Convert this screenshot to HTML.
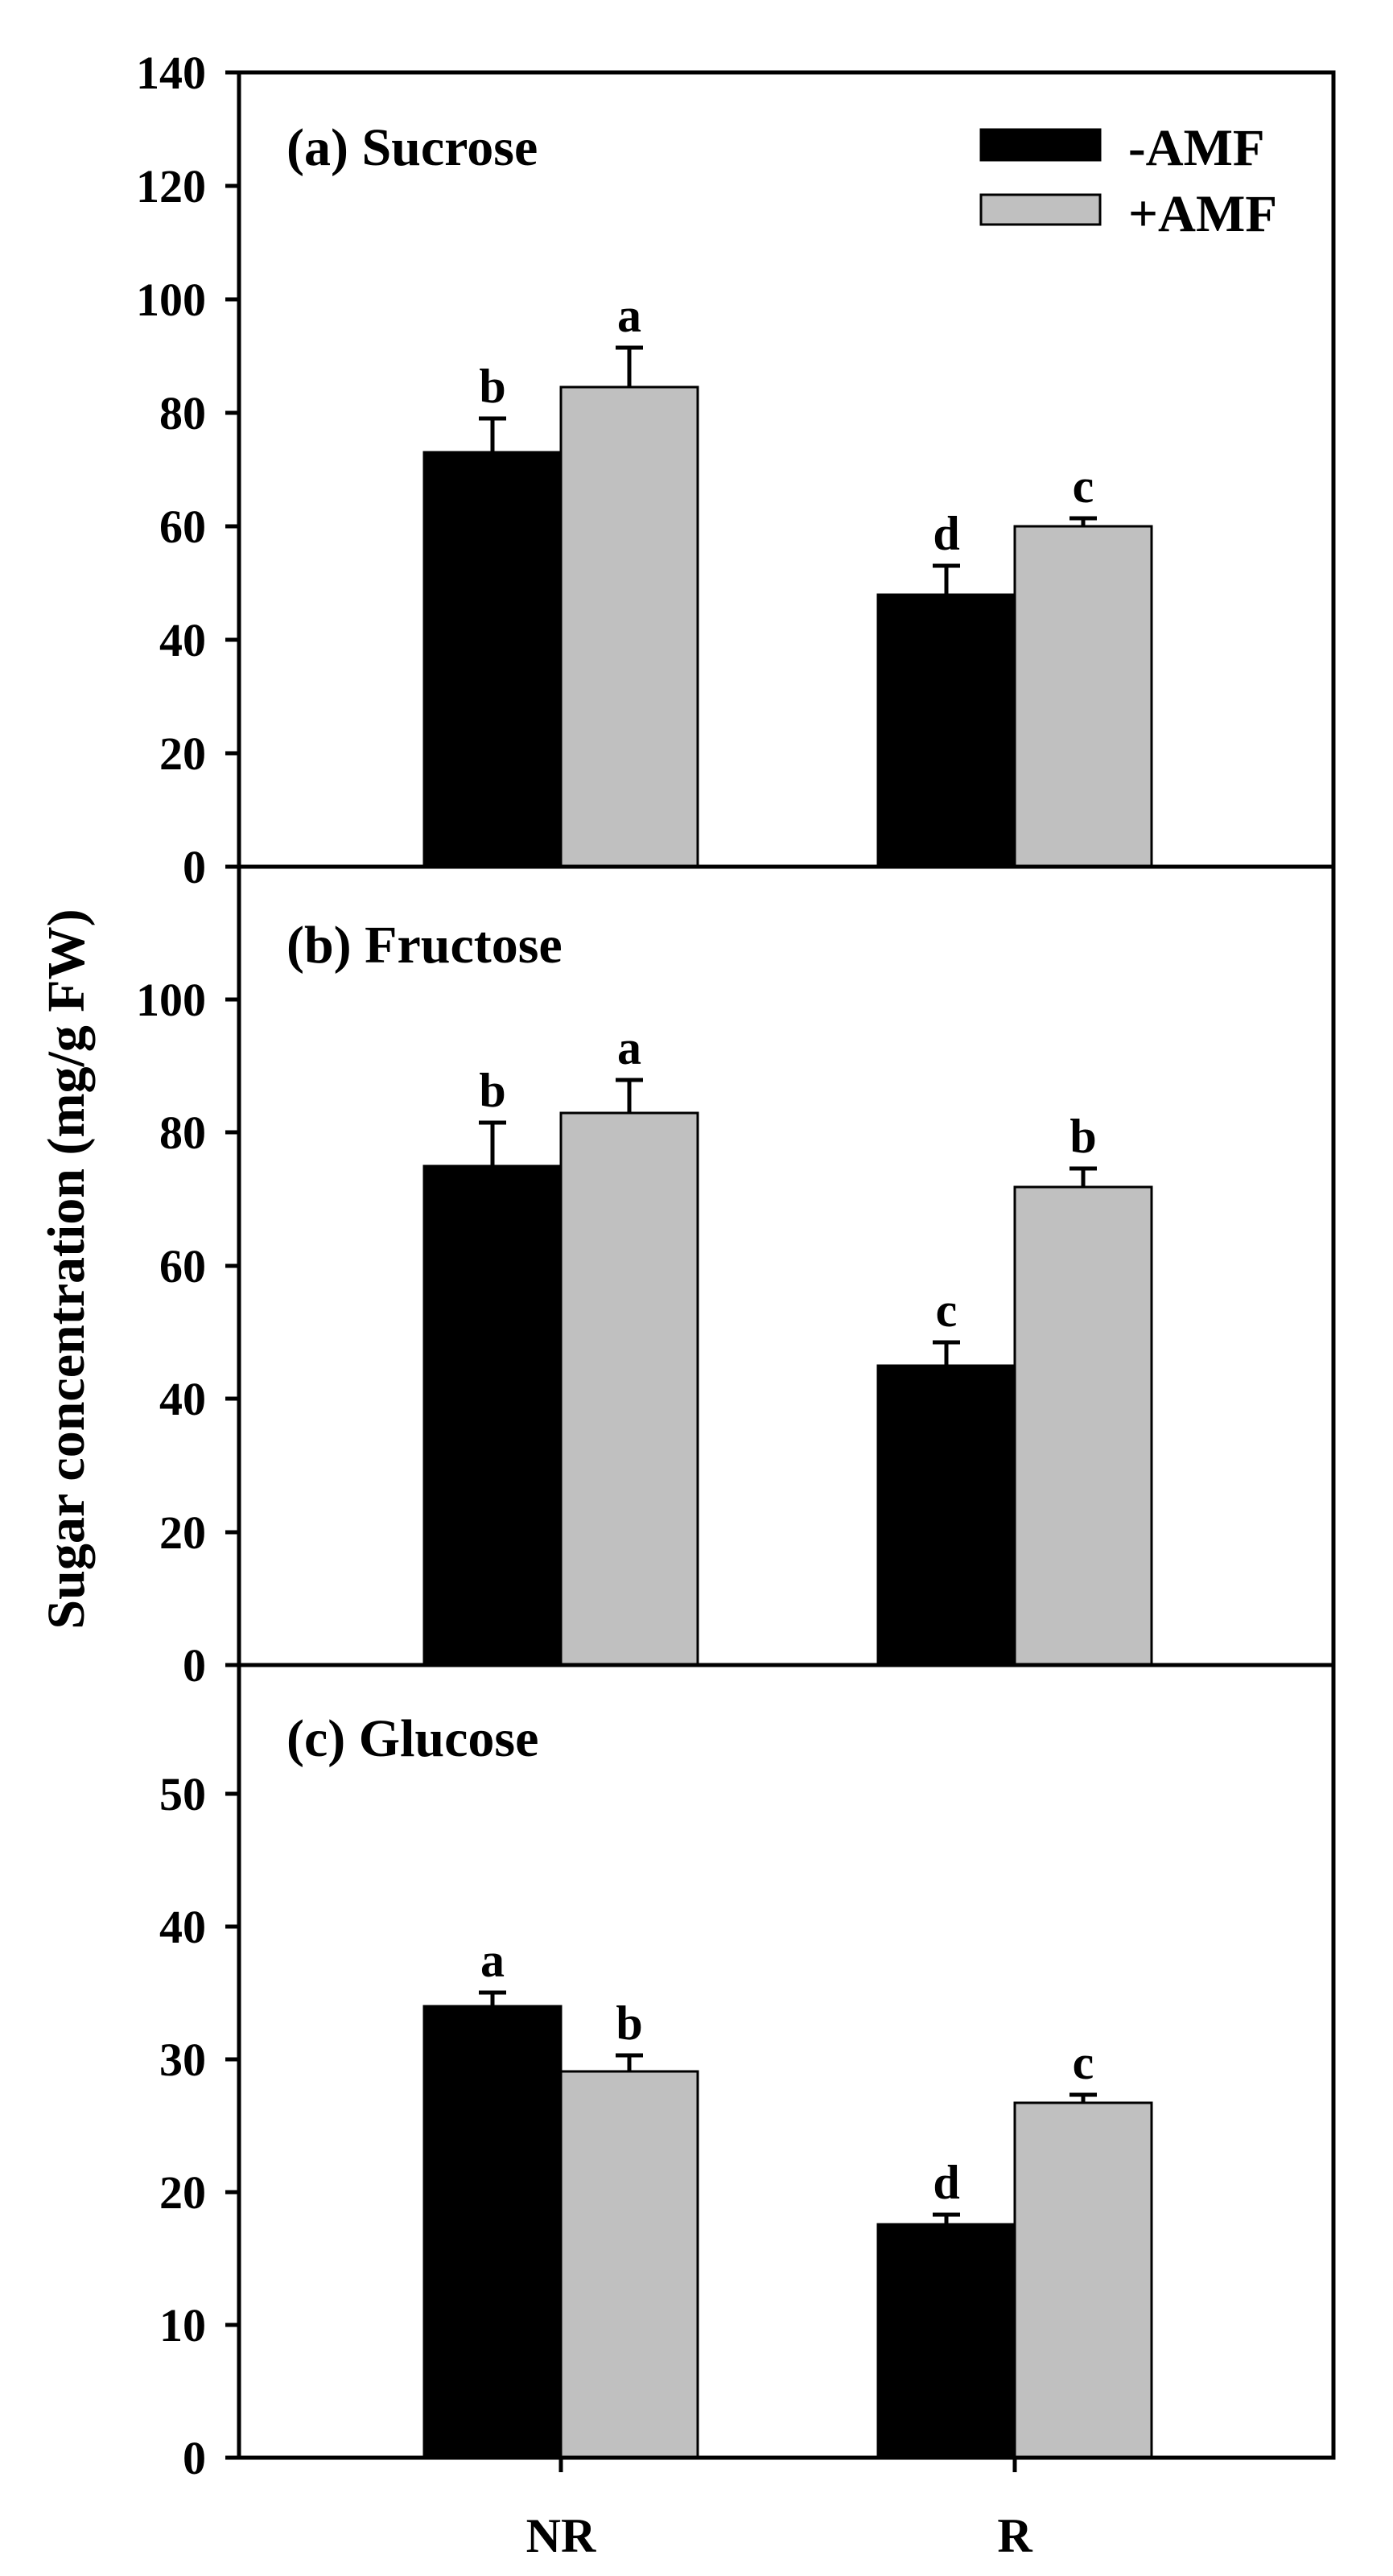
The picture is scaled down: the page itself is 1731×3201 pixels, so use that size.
<!DOCTYPE html>
<html><head><meta charset="utf-8"><style>
html,body{margin:0;padding:0;background:#fff}
svg{display:block}
text{font-family:"Liberation Serif",serif;font-weight:bold;fill:#000}
</style></head><body>
<svg width="1731" height="3201" viewBox="0 0 1731 3201" xmlns="http://www.w3.org/2000/svg">
<g font-size="58" text-anchor="end">
<text x="256" y="1097">0</text>
<text x="256" y="956">20</text>
<text x="256" y="815">40</text>
<text x="256" y="674">60</text>
<text x="256" y="533">80</text>
<text x="256" y="392">100</text>
<text x="256" y="251">120</text>
<text x="256" y="110">140</text>
<text x="256" y="2089">0</text>
<text x="256" y="1924">20</text>
<text x="256" y="1758">40</text>
<text x="256" y="1593">60</text>
<text x="256" y="1427">80</text>
<text x="256" y="1262">100</text>
<text x="256" y="3074">0</text>
<text x="256" y="2909">10</text>
<text x="256" y="2744">20</text>
<text x="256" y="2579">30</text>
<text x="256" y="2414">40</text>
<text x="256" y="2249">50</text>
</g>
<g stroke="#000" stroke-width="5">
<line x1="280" y1="1077" x2="297" y2="1077"/><line x1="280" y1="936" x2="297" y2="936"/><line x1="280" y1="795" x2="297" y2="795"/><line x1="280" y1="654" x2="297" y2="654"/><line x1="280" y1="513" x2="297" y2="513"/><line x1="280" y1="372" x2="297" y2="372"/><line x1="280" y1="231" x2="297" y2="231"/><line x1="280" y1="90" x2="297" y2="90"/>
<line x1="280" y1="1904" x2="297" y2="1904"/><line x1="280" y1="1738" x2="297" y2="1738"/><line x1="280" y1="1573" x2="297" y2="1573"/><line x1="280" y1="1407" x2="297" y2="1407"/><line x1="280" y1="1242" x2="297" y2="1242"/><line x1="280" y1="2069" x2="297" y2="2069"/>
<line x1="280" y1="3054" x2="297" y2="3054"/><line x1="280" y1="2889" x2="297" y2="2889"/><line x1="280" y1="2724" x2="297" y2="2724"/><line x1="280" y1="2559" x2="297" y2="2559"/><line x1="280" y1="2394" x2="297" y2="2394"/><line x1="280" y1="2229" x2="297" y2="2229"/>
<line x1="697" y1="3054" x2="697" y2="3072"/><line x1="1261" y1="3054" x2="1261" y2="3072"/>
</g>
<g stroke="#000" stroke-width="3">
<rect x="527" y="562" width="170" height="515" fill="#000"/>
<rect x="697" y="481" width="170" height="596" fill="#c0c0c0"/>
<rect x="1091" y="739" width="170" height="338" fill="#000"/>
<rect x="1261" y="654" width="170" height="423" fill="#c0c0c0"/>
<rect x="527" y="1449" width="170" height="620" fill="#000"/>
<rect x="697" y="1383" width="170" height="686" fill="#c0c0c0"/>
<rect x="1091" y="1697" width="170" height="372" fill="#000"/>
<rect x="1261" y="1475" width="170" height="594" fill="#c0c0c0"/>
<rect x="527" y="2493" width="170" height="561" fill="#000"/>
<rect x="697" y="2574" width="170" height="480" fill="#c0c0c0"/>
<rect x="1091" y="2764" width="170" height="290" fill="#000"/>
<rect x="1261" y="2613" width="170" height="441" fill="#c0c0c0"/>
</g>
<g stroke="#000" stroke-width="5" fill="none">
<path d="M612 562V520M595 520H629"/>
<path d="M782 481V432M765 432H799"/>
<path d="M1176 739V703M1159 703H1193"/>
<path d="M1346 654V644M1329 644H1363"/>
<path d="M612 1449V1395M595 1395H629"/>
<path d="M782 1383V1342M765 1342H799"/>
<path d="M1176 1697V1668M1159 1668H1193"/>
<path d="M1346 1475V1452M1329 1452H1363"/>
<path d="M612 2493V2476M595 2476H629"/>
<path d="M782 2574V2554M765 2554H799"/>
<path d="M1176 2764V2752M1159 2752H1193"/>
<path d="M1346 2613V2603M1329 2603H1363"/>
</g>
<g font-size="60" text-anchor="middle">
<text x="612" y="500">b</text>
<text x="782" y="412">a</text>
<text x="1176" y="683">d</text>
<text x="1346" y="624">c</text>
<text x="612" y="1375">b</text>
<text x="782" y="1322">a</text>
<text x="1176" y="1648">c</text>
<text x="1346" y="1432">b</text>
<text x="612" y="2456">a</text>
<text x="782" y="2534">b</text>
<text x="1176" y="2732">d</text>
<text x="1346" y="2583">c</text>
</g>
<g stroke="#000" stroke-width="5" fill="none">
<rect x="297" y="90" width="1360" height="2964"/>
<line x1="297" y1="1077" x2="1657" y2="1077"/>
<line x1="297" y1="2069" x2="1657" y2="2069"/>
</g>
<g font-size="66">
<text x="356" y="205">(a) Sucrose</text>
<text x="356" y="1196">(b) Fructose</text>
<text x="356" y="2182">(c) Glucose</text>
</g>
<rect x="1219" y="161" width="148" height="38" fill="#000" stroke="#000" stroke-width="3"/>
<rect x="1219" y="242" width="148" height="37" fill="#c0c0c0" stroke="#000" stroke-width="3"/>
<g font-size="65">
<text x="1402" y="205">-AMF</text>
<text x="1402" y="287">+AMF</text>
</g>
<g font-size="60" text-anchor="middle">
<text x="697" y="3171">NR</text>
<text x="1261" y="3171">R</text>
</g>
<text font-size="66" text-anchor="middle" transform="translate(104,1577) rotate(-90)">Sugar concentration (mg/g FW)</text>
</svg>
</body></html>
